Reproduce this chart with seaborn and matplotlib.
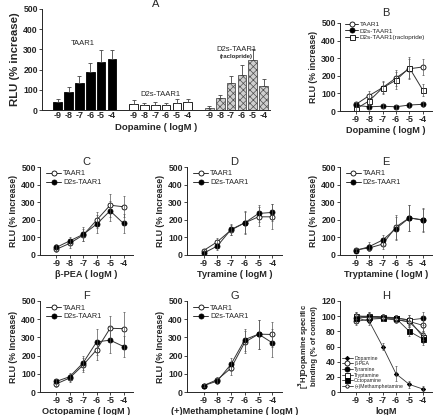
import numpy as np
import pandas as pd
import matplotlib
matplotlib.use("Agg")
import matplotlib.pyplot as plt
import seaborn as sns

# ---------------- data ----------------
log_conc = [-9, -8, -7, -6, -5, -4]
tick_labels = ["-9", "-8", "-7", "-6", "-5", "-4"]

# Panel A / B : dopamine
dopa_taar1 = [38, 88, 133, 188, 240, 250]
dopa_taar1_err = [14, 25, 33, 45, 57, 48]
dopa_d2s = [32, 24, 27, 24, 34, 38]
dopa_d2s_err = [18, 10, 12, 10, 18, 14]
dopa_raclo = [12, 58, 132, 175, 246, 120]
dopa_raclo_err = [10, 18, 36, 48, 58, 33]

# Panels C-G : TAAR1 vs D2s-TAAR1
pea_taar1 = [32, 66, 113, 198, 283, 274]
pea_taar1_err = [15, 25, 35, 45, 65, 60]
pea_d2s = [43, 80, 117, 175, 251, 179]
pea_d2s_err = [20, 25, 40, 50, 55, 55]

tyr_taar1 = [25, 75, 142, 183, 217, 217]
tyr_taar1_err = [10, 20, 30, 65, 55, 70]
tyr_d2s = [10, 51, 145, 183, 236, 242]
tyr_d2s_err = [10, 20, 30, 60, 50, 50]

try_taar1 = [30, 40, 62, 160, 211, 200]
try_taar1_err = [10, 20, 30, 70, 75, 65]
try_d2s = [25, 48, 85, 150, 211, 198]
try_d2s_err = [10, 25, 30, 65, 75, 65]

oct_taar1 = [44, 77, 148, 232, 350, 348]
oct_taar1_err = [15, 20, 40, 55, 65, 90]
oct_d2s = [58, 84, 160, 275, 285, 250]
oct_d2s_err = [15, 20, 40, 70, 70, 60]

meth_taar1 = [35, 68, 131, 274, 318, 316]
meth_taar1_err = [8, 15, 35, 60, 80, 70]
meth_d2s = [35, 60, 153, 288, 318, 270]
meth_d2s_err = [8, 15, 35, 60, 80, 75]

# Panel H : [3H]dopamine binding
h_names = ["Dopamine", "β-PEA", "Tyramine", "Tryptamine", "Octopamine", "(+)Methamphetamine"]
h_dopamine = [98, 93, 60, 24, 10, 4]
h_pea = [93, 96, 97, 95, 93, 88]
h_tyramine = [98, 100, 99, 98, 95, 97]
h_tryptamine = [100, 100, 99, 97, 95, 73]
h_octopamine = [97, 99, 98, 97, 80, 70]
h_meth = [101, 98, 97, 96, 92, 76]
h_err = [4, 4, 4, 10, 5, 4]
h_err_other = [5, 5, 4, 4, 6, 8]

# ---------------- style ----------------
sns.set_style("ticks")
plt.rcParams["font.family"] = ["Liberation Sans", "DejaVu Sans"]
plt.rcParams["hatch.linewidth"] = 0.5
TICK_FS = 6.2
BOLD = "bold"

fig = plt.figure(figsize=(4.4, 4.15), dpi=100)
W, H = 440.0, 415.0


def add_ax(left, top, right, bottom):
    return fig.add_axes([left / W, 1 - bottom / H, (right - left) / W, (bottom - top) / H])


def style_axes(ax, ymax=500, ystep=100):
    sns.despine(ax=ax)
    ax.set_ylim(0, ymax)
    ax.set_yticks(range(0, ymax + 1, ystep))
    ax.tick_params(axis="both", labelsize=TICK_FS, length=2, width=0.6, pad=1)
    for s in ax.spines.values():
        s.set_linewidth(0.7)


# ---------------- Panel A (bars) ----------------
axA = add_ax(42, 9, 270, 110)
groups = ["TAAR1", "D2s-TAAR1", "raclopride"]
group_vals = [dopa_taar1, dopa_d2s, dopa_raclo]
group_errs = [dopa_taar1_err, dopa_d2s_err, dopa_raclo_err]
order = []
rows = []
for gi, (g, vals) in enumerate(zip(groups, group_vals)):
    for c, v in zip(tick_labels, vals):
        slot = f"{g}{c}"
        order.append(slot)
        rows.append({"slot": slot, "value": v, "group": g})
    if gi < 2:
        order.append(f"gap{gi}")
dfA = pd.DataFrame(rows)
sns.barplot(data=dfA, x="slot", y="value", hue="group", order=order,
            hue_order=groups, dodge=False, errorbar=None, width=0.8,
            palette=["black", "white", "#cfcfcf"], legend=False, ax=axA)
for cont, g in zip(axA.containers, groups):
    for p in cont:
        p.set_edgecolor("black")
        p.set_linewidth(0.6)
        if g == "raclopride":
            p.set_hatch("xxxxx")
            p.set_edgecolor("#505050")
for g, vals, errs in zip(groups, group_vals, group_errs):
    xs = [order.index(f"{g}{c}") for c in tick_labels]
    axA.errorbar(xs, vals, yerr=[np.zeros(len(errs)), errs], fmt="none",
                 ecolor="#444444", elinewidth=0.6, capsize=1.2, capthick=0.6)
style_axes(axA)
xt = [i for i, s in enumerate(order) if not s.startswith("gap")]
axA.set_xticks(xt)
axA.set_xticklabels(tick_labels * 3, fontsize=TICK_FS + 0.3)
axA.tick_params(axis="x", length=0)
axA.set_xlim(-1.45, 19.6)
axA.set_xlabel("Dopamine ( logM )", fontsize=6.8, fontweight=BOLD, labelpad=2)
axA.set_ylabel("RLU (% increase)", fontsize=8.2, fontweight=BOLD, labelpad=2)
axA.set_title("A", fontsize=8, pad=0.5)
axA.text(2.3, 320, "TAAR1", fontsize=5.5, ha="center")
axA.text(9.5, 70, "D2s-TAAR1", fontsize=5.5, ha="center")
axA.text(16.5, 290, "D2s-TAAR1", fontsize=5.5, ha="center")
axA.text(16.5, 255, "(raclopride)", fontsize=4.3, ha="center", fontweight=BOLD)


def draw_series(ax, x, y, err, label, marker="o", filled=True, ms=3.6, lw=0.7):
    sns.lineplot(x=x, y=y, ax=ax, color="#333333", lw=lw, marker=marker,
                 markersize=ms, markerfacecolor="black" if filled else "white",
                 markeredgecolor="black", markeredgewidth=0.6, label=label)
    ax.errorbar(x, y, yerr=err, fmt="none", ecolor="#555555",
                elinewidth=0.5, capsize=1.0, capthick=0.5)


def setup_line_ax(ax, xlabel, ylabel, title, ymax=500, ystep=100, title_pad=0.5):
    style_axes(ax, ymax, ystep)
    ax.set_xticks(log_conc)
    ax.set_xticklabels(tick_labels, fontsize=TICK_FS + 0.3)
    ax.set_xlim(-10.2, -3.3)
    ax.set_xlabel(xlabel, fontsize=6.6, fontweight=BOLD, labelpad=1.5)
    ax.set_ylabel(ylabel, fontsize=6.3, fontweight=BOLD, labelpad=2)
    ax.set_title(title, fontsize=8, pad=title_pad)


def line_legend(ax, loc, anchor, fs, spacing=0.15):
    h, l = ax.get_legend_handles_labels()
    ax.legend(h, l, loc=loc, bbox_to_anchor=anchor, frameon=False,
              prop={"size": fs, "family": ["Liberation Sans", "DejaVu Sans"]},
              handlelength=2.0, handletextpad=0.3, labelspacing=spacing,
              borderpad=0.1, borderaxespad=0)


# ---------------- Panel B ----------------
axB = add_ax(340, 23, 432, 111)
draw_series(axB, log_conc, dopa_taar1, dopa_taar1_err, "TAAR1", filled=False)
draw_series(axB, log_conc, dopa_d2s, dopa_d2s_err, "D2s-TAAR1", filled=True)
draw_series(axB, log_conc, dopa_raclo, dopa_raclo_err, "D2s-TAAR1(raclopride)", marker="s", filled=False)
setup_line_ax(axB, "Dopamine ( logM )", "RLU (% increase)", "B", title_pad=5)
line_legend(axB, "upper left", (0.05, 1.02), 4.6, spacing=0.12)

# ---------------- Panels C-G ----------------
panels = [
    ("C", (40, 167, 133, 255), "β-PEA ( logM )", pea_taar1, pea_taar1_err, pea_d2s, pea_d2s_err),
    ("D", (187, 167, 282, 255), "Tyramine ( logM )", tyr_taar1, tyr_taar1_err, tyr_d2s, tyr_d2s_err),
    ("E", (340, 167, 432, 255), "Tryptamine ( logM )", try_taar1, try_taar1_err, try_d2s, try_d2s_err),
    ("F", (40, 301, 133, 392), "Octopamine ( logM )", oct_taar1, oct_taar1_err, oct_d2s, oct_d2s_err),
    ("G", (187, 301, 282, 392), "(+)Methamphetamine ( logM )", meth_taar1, meth_taar1_err, meth_d2s, meth_d2s_err),
]
for title, box, xl, t, te, d, de in panels:
    ax = add_ax(*box)
    draw_series(ax, log_conc, t, te, "TAAR1", filled=False)
    draw_series(ax, log_conc, d, de, "D2s-TAAR1", filled=True)
    setup_line_ax(ax, xl, "RLU (% Increase)", title)
    line_legend(ax, "upper left", (0.06, 0.97), 5.2, spacing=0.25)

# ---------------- Panel H ----------------
axH = add_ax(340, 301, 432, 392)
h_series = [h_dopamine, h_pea, h_tyramine, h_tryptamine, h_octopamine, h_meth]
h_markers = [("D", True, 2.2), ("o", False, 3.6), ("o", True, 3.6),
             ("s", False, 3.6), ("s", True, 3.6), ("o", False, 2.4)]
for name, vals, (m, f, ms) in zip(h_names, h_series, h_markers):
    err = h_err if name == "Dopamine" else h_err_other
    draw_series(axH, log_conc, vals, err, name, marker=m, filled=f, ms=ms, lw=0.6)
setup_line_ax(axH, "logM", "binding", "H", ymax=120, ystep=20)
axH.set_ylabel("[$^\\mathbf{3}$H]Dopamine specific\nbinding (% of control)", fontsize=5.6,
               fontweight=BOLD, labelpad=2, linespacing=1.0)
line_legend(axH, "lower left", (0.02, 0.03), 3.7, spacing=0.12)

# bold tick labels everywhere
for ax in fig.axes:
    for lab in ax.get_xticklabels() + ax.get_yticklabels():
        lab.set_fontweight(BOLD)

fig.savefig("out.png", dpi=100)
